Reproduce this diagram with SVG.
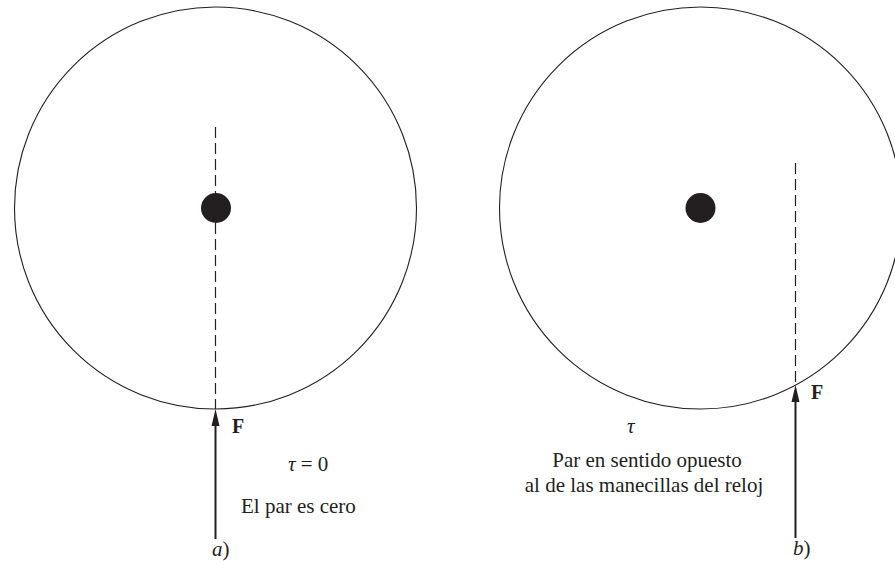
<svg xmlns="http://www.w3.org/2000/svg" width="895" height="570" viewBox="0 0 895 570">
<style>
.wheel{fill:none;stroke:#231f20;stroke-width:1.1}
.axle{fill:#231f20}
.dash{stroke:#231f20;stroke-width:1.2;stroke-dasharray:11 5;fill:none}
.force{stroke:#231f20;stroke-width:2;fill:none}
.head{fill:#231f20}
.t{font-family:"Liberation Serif","Times New Roman",serif;font-size:21px;fill:#231f20}
.b{font-weight:bold;font-size:20px}
.i{font-style:italic}
</style>
<rect width="895" height="570" fill="#fff"/>
<g id="wheel-a">
<circle class="wheel" cx="215.5" cy="208" r="201"/>
<circle class="axle" cx="216" cy="208" r="15"/>
</g>
<g id="wheel-b">
<circle class="wheel" cx="700.5" cy="208" r="201"/>
<circle class="axle" cx="700.5" cy="208" r="15"/>
</g>
<g id="connectors">
<line class="dash" x1="215.5" y1="127" x2="215.5" y2="409"/>
<line class="dash" x1="795.5" y1="163" x2="795.5" y2="385"/>
<line class="force" x1="215.5" y1="539" x2="215.5" y2="424"/>
<path class="head" d="M215.5 409 L211.5 426 L219.5 426 Z"/>
<line class="force" x1="795.5" y1="538" x2="795.5" y2="400"/>
<path class="head" d="M795.5 385 L791.5 402 L799.5 402 Z"/>
</g>
<g id="labels-a">
<text class="t b" x="232" y="433">F</text>
<text class="t" x="288" y="471"><tspan class="i">τ</tspan> = 0</text>
<text class="t" x="241" y="513">El par es cero</text>
<text class="t" x="212" y="556"><tspan class="i">a</tspan>)</text>
</g>
<g id="labels-b">
<text class="t b" x="811" y="399">F</text>
<text class="t i" x="627" y="433">τ</text>
<text class="t" x="647" y="467" text-anchor="middle">Par en sentido opuesto</text>
<text class="t" x="644" y="492" text-anchor="middle">al de las manecillas del reloj</text>
<text class="t" x="793" y="555"><tspan class="i">b</tspan>)</text>
</g>
</svg>
